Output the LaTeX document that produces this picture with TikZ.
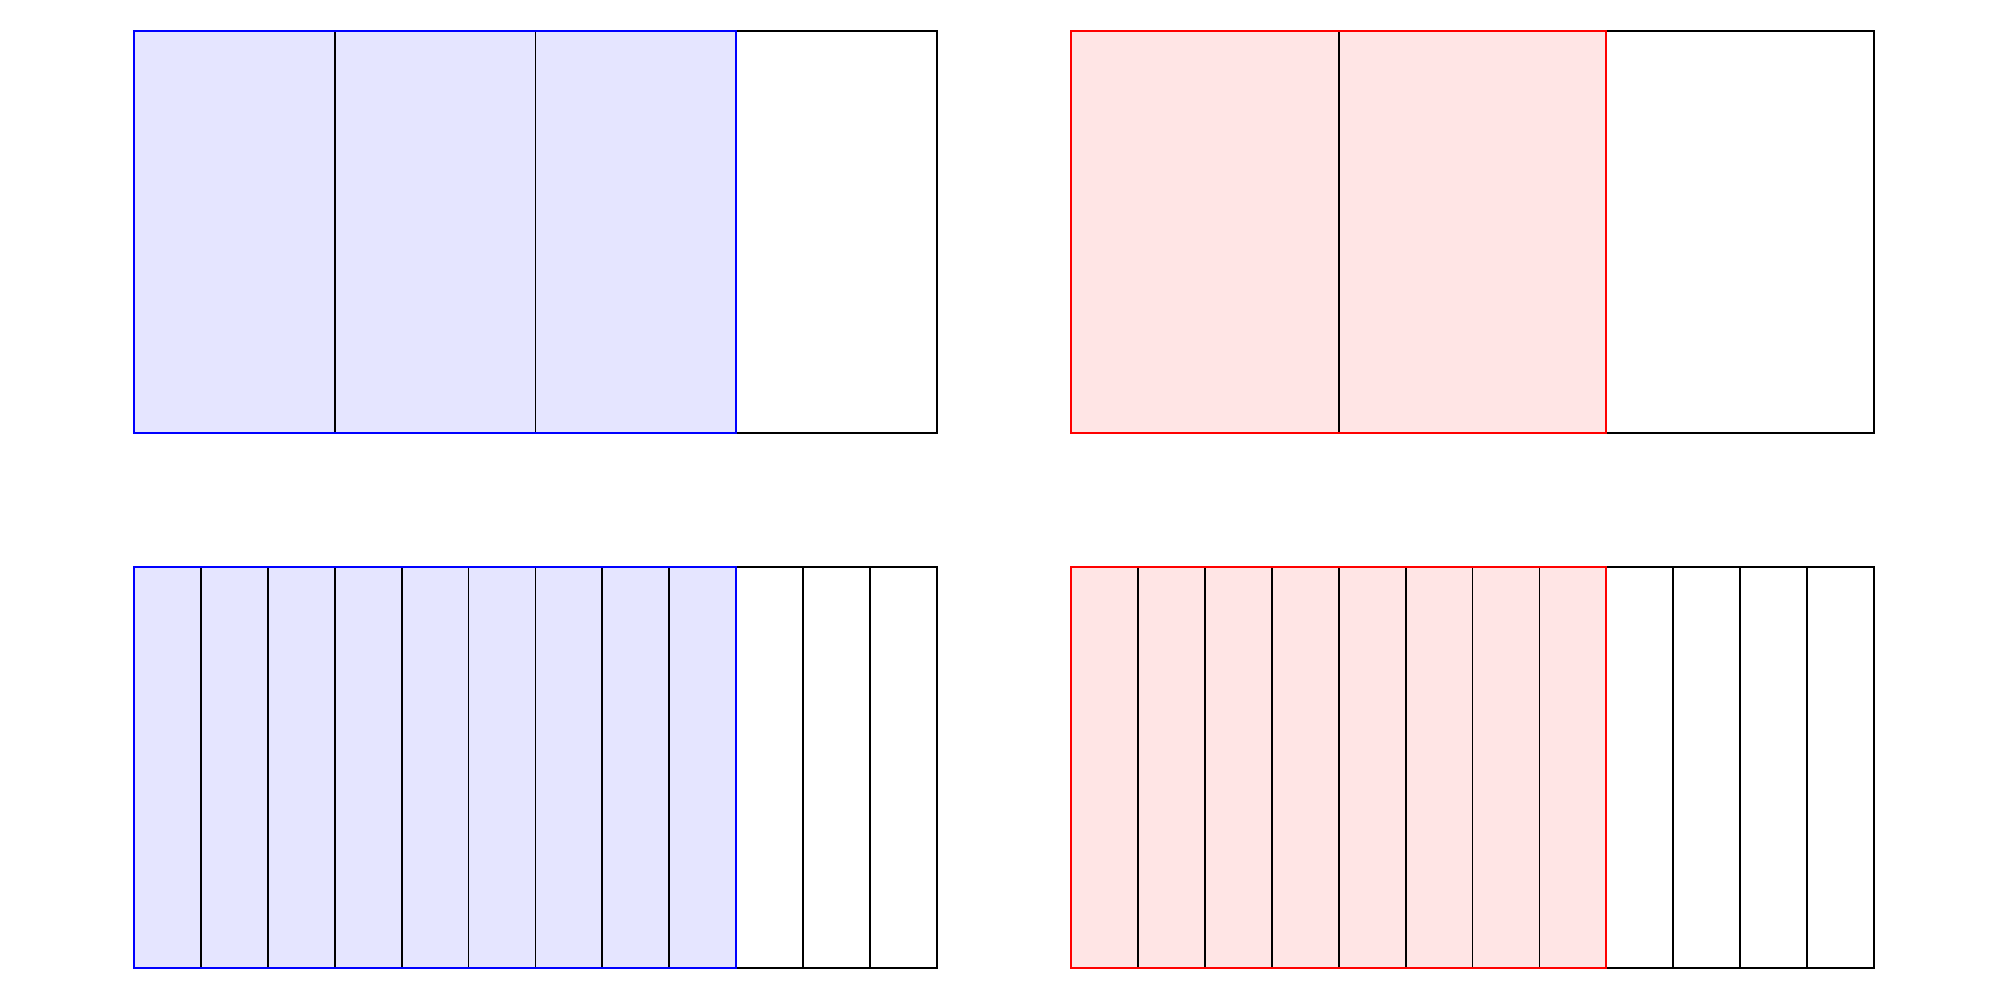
\documentclass[tikz,border=0pt]{standalone}
\usepackage{tikz}
\usepackage{xcolor}
\tikzset{
  whole/.style={draw=black},
  bluefill/.style={fill=blue!10},
  redfill/.style={fill=red!10},
  blueedge/.style={draw=blue},
  rededge/.style={draw=red},
}
\begin{document}
\begin{tikzpicture}
\useasboundingbox (-1,-0.2) rectangle (14,7.233);

% three quarters
\fill[bluefill] (0,4) rectangle (4.5,7);
\draw[whole] (0,4) rectangle (6,7);
\foreach \x in {1.5,3} {\draw[whole] (\x,4) -- (\x,7);}
\draw[blueedge] (0,4) rectangle (4.5,7);

% two thirds
\fill[redfill] (7,4) rectangle (11,7);
\draw[whole] (7,4) rectangle (13,7);
\draw[whole] (9,4) -- (9,7);
\draw[rededge] (7,4) rectangle (11,7);

% nine twelfths
\fill[bluefill] (0,0) rectangle (4.5,3);
\draw[whole] (0,0) rectangle (6,3);
\foreach \i in {1,...,11} {\draw[whole] (\i*0.5,0) -- (\i*0.5,3);}
\draw[blueedge] (0,0) rectangle (4.5,3);

% eight twelfths
\fill[redfill] (7,0) rectangle (11,3);
\draw[whole] (7,0) rectangle (13,3);
\foreach \i in {1,...,11} {\draw[whole] (7+\i*0.5,0) -- (7+\i*0.5,3);}
\draw[rededge] (7,0) rectangle (11,3);

\end{tikzpicture}
\end{document}
